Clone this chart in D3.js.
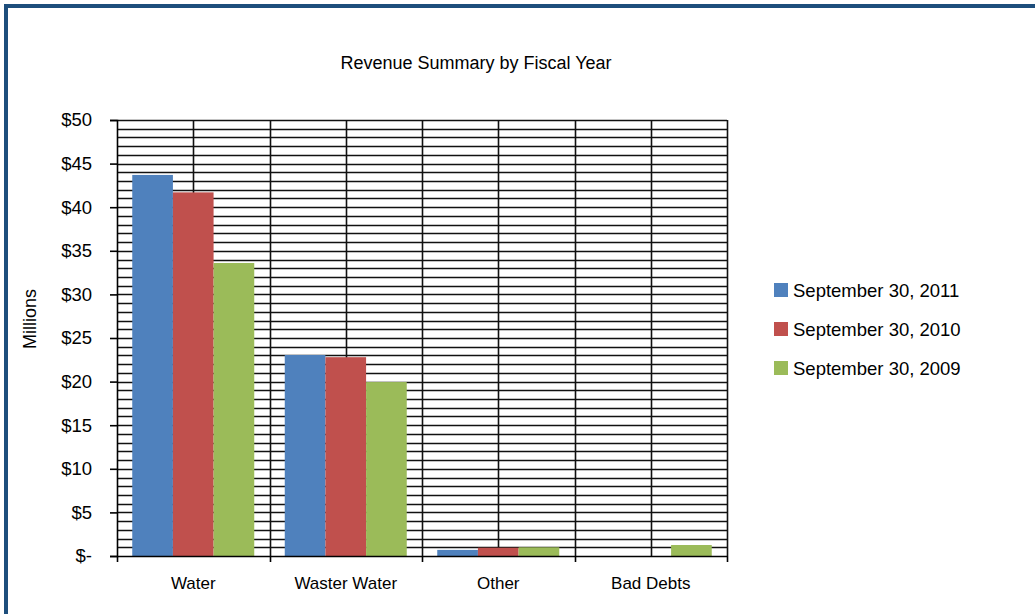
<!DOCTYPE html>
<html>
<head>
<meta charset="utf-8">
<script src="https://cdn.jsdelivr.net/npm/d3@7"></script>
<style>
  body { margin: 0; background: #fff; }
  svg { display: block; font-family: "Liberation Sans", Arial, sans-serif; }
</style>
</head>
<body>
<svg id="chart" width="1035" height="614"></svg>
<script>
var categories = ["Water", "Waster Water", "Other", "Bad Debts"];
var seriesNames = ["September 30, 2011", "September 30, 2010", "September 30, 2009"];
var fy2011 = [43.7, 23.05, 0.7, 0];
var fy2010 = [41.7, 22.8, 0.95, 0];
var fy2009 = [33.6, 19.95, 1.0, 1.26];
var yTicks = [0, 5, 10, 15, 20, 25, 30, 35, 40, 45, 50];
var colors = ["#4f81bd", "#c0504d", "#9bbb59"];

var series = [fy2011, fy2010, fy2009];

var svg = d3.select("#chart"),
    margin = {top: 120, left: 117, right: 308, bottom: 58},
    width = +svg.attr("width") - margin.left - margin.right,
    height = +svg.attr("height") - margin.top - margin.bottom;

// frame
svg.append("rect")
    .attr("x", 6).attr("y", 6)
    .attr("width", 1100).attr("height", 700)
    .attr("fill", "none")
    .attr("stroke", "#1d4e7c")
    .attr("stroke-width", 4);

svg.append("text")
    .attr("x", 476).attr("y", 69)
    .attr("text-anchor", "middle")
    .attr("font-size", 18)
    .attr("fill", "#000")
    .text("Revenue Summary by Fiscal Year");

var g = svg.append("g").attr("transform", "translate(" + margin.left + "," + margin.top + ")");

var x = d3.scaleBand().domain(categories).range([0, width]);
var y = d3.scaleLinear().domain([0, 50]).range([height, 0]);
var xs = d3.scaleBand().domain(d3.range(series.length))
    .range([x.bandwidth() * 0.1, x.bandwidth() * 0.9]);

// minor horizontal gridlines every $1
g.append("g").selectAll("line")
    .data(d3.range(1, 51))
    .enter().append("line")
    .attr("x1", 0).attr("x2", width)
    .attr("y1", function(d) { return Math.round(y(d)) + 0.5; })
    .attr("y2", function(d) { return Math.round(y(d)) + 0.5; })
    .attr("stroke", "#111")
    .attr("stroke-width", 1.6);

// vertical gridlines at category centres and edges
var vlines = [];
categories.forEach(function(c) { vlines.push(x(c) + x.bandwidth() / 2); });
categories.forEach(function(c) { vlines.push(x(c) + x.bandwidth()); });
g.append("g").selectAll("line")
    .data(vlines)
    .enter().append("line")
    .attr("x1", function(d) { return Math.round(d) + 0.5; })
    .attr("x2", function(d) { return Math.round(d) + 0.5; })
    .attr("y1", 0).attr("y2", height)
    .attr("stroke", "#111")
    .attr("stroke-width", 1.6);

// bars
series.forEach(function(vals, si) {
  g.append("g").selectAll("rect")
      .data(vals)
      .enter().append("rect")
      .attr("x", function(d, i) { return x(categories[i]) + xs(si); })
      .attr("width", xs.bandwidth())
      .attr("y", function(d) { return y(d); })
      .attr("height", function(d) { return height - y(d); })
      .attr("fill", colors[si]);
});

// y axis
var yAxis = g.append("g")
    .call(d3.axisLeft(y).tickValues(yTicks).tickSize(7).tickPadding(18)
      .tickFormat(function(d) { return d === 0 ? "$-" : "$" + d; }));
yAxis.select(".domain").attr("stroke", "#000").attr("stroke-width", 1.6);
yAxis.selectAll(".tick line").attr("stroke", "#000").attr("stroke-width", 1.6);
yAxis.selectAll("text").attr("font-size", 18.5).attr("fill", "#000")
    .attr("font-family", "Liberation Sans, Arial, sans-serif");

// x axis
var xAxis = g.append("g")
    .attr("transform", "translate(0," + height + ")")
    .call(d3.axisBottom(x).tickSize(0).tickPadding(21));
xAxis.select(".domain").attr("stroke", "#000").attr("stroke-width", 1.6);
xAxis.selectAll("text").attr("font-size", 17).attr("fill", "#000")
    .attr("font-family", "Liberation Sans, Arial, sans-serif");

// category boundary ticks
var edges = [0].concat(categories.map(function(c) { return x(c) + x.bandwidth(); }));
xAxis.append("g").selectAll("line")
    .data(edges)
    .enter().append("line")
    .attr("x1", function(d) { return Math.round(d) + 0.5; })
    .attr("x2", function(d) { return Math.round(d) + 0.5; })
    .attr("y1", 0).attr("y2", 6)
    .attr("stroke", "#000")
    .attr("stroke-width", 1.6);

// y title
svg.append("text")
    .attr("transform", "translate(36,319) rotate(-90)")
    .attr("text-anchor", "middle")
    .attr("font-size", 18)
    .attr("fill", "#000")
    .text("Millions");

// legend
var legend = svg.append("g").attr("transform", "translate(774,283)");
seriesNames.forEach(function(name, i) {
  var item = legend.append("g").attr("transform", "translate(0," + (i * 39) + ")");
  item.append("rect")
      .attr("width", 14).attr("height", 14)
      .attr("fill", colors[i]);
  item.append("text")
      .attr("x", 19).attr("y", 14)
      .attr("font-size", 18.5)
      .attr("fill", "#000")
      .text(name);
});
</script>
</body>
</html>
